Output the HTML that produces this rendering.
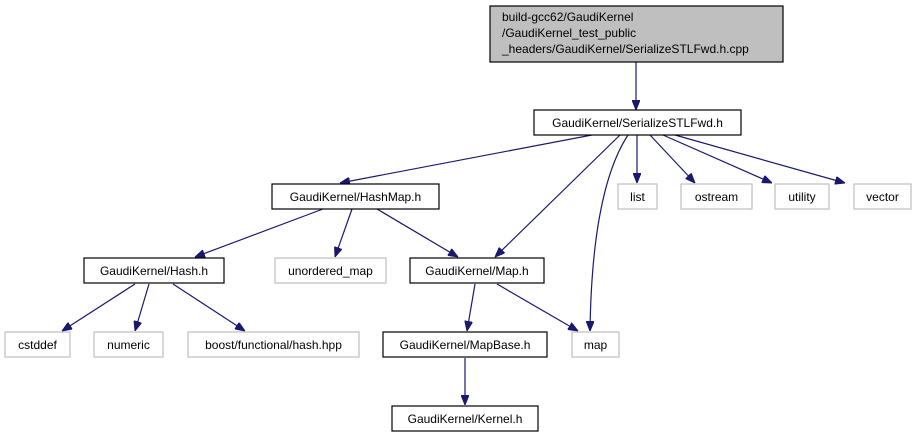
<!DOCTYPE html>
<html><head><meta charset="utf-8"><style>
html,body{margin:0;padding:0;background:#fff;}
svg{display:block;font-family:"Liberation Sans",Arial,sans-serif;}
</style></head><body>
<svg width="915" height="440" viewBox="0 0 915 440" xmlns="http://www.w3.org/2000/svg">
<defs>
<marker id="a" markerWidth="10" markerHeight="8" refX="10" refY="4" orient="auto" markerUnits="userSpaceOnUse">
<path d="M0,0 L10,4 L0,8 Z" fill="#191970" stroke="#191970"/>
</marker>
</defs>
<g stroke="#191970" stroke-width="1.2" fill="none" marker-end="url(#a)">
<path d="M636,62 L636,110"/>
<path d="M592,135 L340,183"/>
<path d="M620,135 L495,257"/>
<path d="M628,135 Q592,190 590,331"/>
<path d="M637,135 L637,183"/>
<path d="M650,135 L695,183"/>
<path d="M663,135 L772,183"/>
<path d="M675,135 L845,183"/>
<path d="M323,209 L195,257"/>
<path d="M352,209 L335,257"/>
<path d="M377,209 L458,257"/>
<path d="M135,284 L62,331"/>
<path d="M149,284 L135,331"/>
<path d="M173,284 L245,331"/>
<path d="M475,284 L467,331"/>
<path d="M497,284 L578,331"/>
<path d="M465,358 L465,405"/>
</g>
<g stroke-width="1.2">
<rect x="490" y="6" width="293" height="56" fill="#bfbfbf" stroke="#000"/>
<rect x="534" y="110" width="207" height="25" fill="#fff" stroke="#000"/>
<rect x="272" y="184" width="167" height="25" fill="#fff" stroke="#000"/>
<rect x="618" y="184" width="39" height="25" fill="#fff" stroke="#bfbfbf"/>
<rect x="681" y="184" width="71" height="25" fill="#fff" stroke="#bfbfbf"/>
<rect x="775" y="184" width="54" height="25" fill="#fff" stroke="#bfbfbf"/>
<rect x="854" y="184" width="57" height="25" fill="#fff" stroke="#bfbfbf"/>
<rect x="84" y="258" width="140" height="25" fill="#fff" stroke="#000"/>
<rect x="275" y="258" width="111" height="25" fill="#fff" stroke="#bfbfbf"/>
<rect x="410" y="258" width="134" height="25" fill="#fff" stroke="#000"/>
<rect x="5" y="332" width="65" height="25" fill="#fff" stroke="#bfbfbf"/>
<rect x="94" y="332" width="69" height="25" fill="#fff" stroke="#bfbfbf"/>
<rect x="188" y="332" width="171" height="25" fill="#fff" stroke="#bfbfbf"/>
<rect x="383" y="332" width="164" height="25" fill="#fff" stroke="#000"/>
<rect x="572" y="332" width="47" height="25" fill="#fff" stroke="#bfbfbf"/>
<rect x="392" y="406" width="146" height="25" fill="#fff" stroke="#000"/>
</g>
<g font-size="12" fill="#000">
<text x="502" y="21">build-gcc62/GaudiKernel</text>
<text x="502" y="37">/GaudiKernel_test_public</text>
<text x="502" y="53">_headers/GaudiKernel/SerializeSTLFwd.h.cpp</text>
<g text-anchor="middle">
<text x="637.5" y="127">GaudiKernel/SerializeSTLFwd.h</text>
<text x="355.5" y="201">GaudiKernel/HashMap.h</text>
<text x="637.5" y="201">list</text>
<text x="716.5" y="201">ostream</text>
<text x="802" y="201">utility</text>
<text x="882.5" y="201">vector</text>
<text x="154" y="275">GaudiKernel/Hash.h</text>
<text x="330.5" y="275">unordered_map</text>
<text x="477" y="275">GaudiKernel/Map.h</text>
<text x="37.5" y="349">cstddef</text>
<text x="128.5" y="349">numeric</text>
<text x="273.5" y="349">boost/functional/hash.hpp</text>
<text x="465" y="349">GaudiKernel/MapBase.h</text>
<text x="595.5" y="349">map</text>
<text x="465" y="423">GaudiKernel/Kernel.h</text>
</g>
</g>
</svg>
</body></html>
